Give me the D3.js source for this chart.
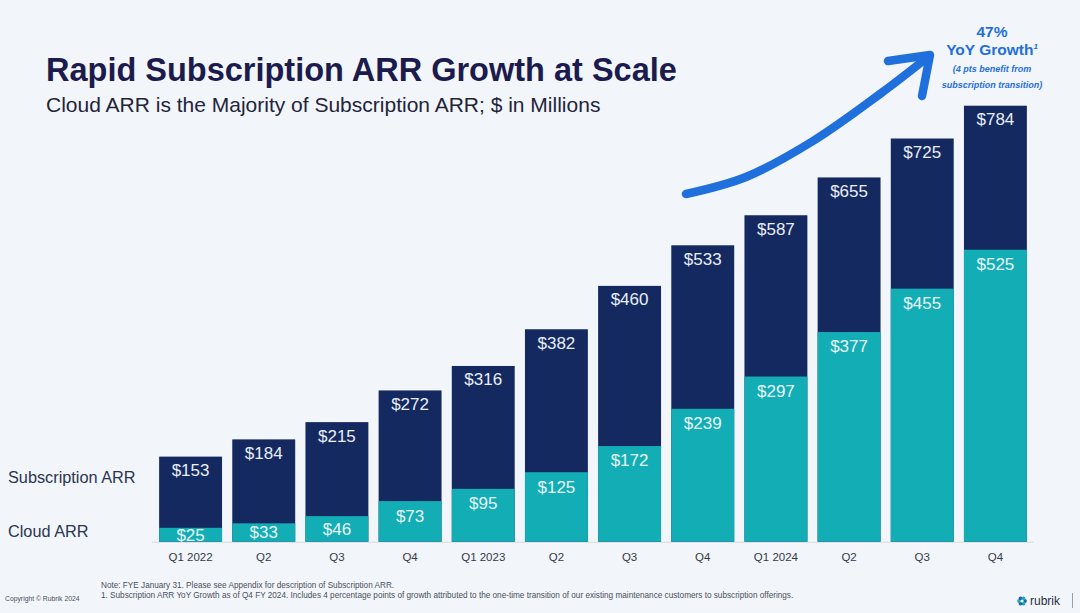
<!DOCTYPE html>
<html>
<head>
<meta charset="utf-8">
<script src="https://cdn.jsdelivr.net/npm/d3@7"></script>
<style>
  html, body { margin: 0; padding: 0; background: #f2f6fa; }
  svg { display: block; font-family: "Liberation Sans", Arial, sans-serif; }
</style>
</head>
<body>
<svg id="chart" width="1080" height="613"></svg>
<script>
// quarters on the x axis
const quarters = ["Q1 2022", "Q2", "Q3", "Q4", "Q1 2023", "Q2", "Q3", "Q4", "Q1 2024", "Q2", "Q3", "Q4"];
// total subscription ARR, $M
const subscriptionArr = [153, 184, 215, 272, 316, 382, 460, 533, 587, 655, 725, 784];
// cloud ARR, $M
const cloudArr = [25, 33, 46, 73, 95, 125, 172, 239, 297, 377, 455, 525];

const navy = "#14295f";
const teal = "#13adb6";
const blue = "#1f6fdc";

const svg = d3.select("#chart");
const W = 1080, H = 613;

svg.append("rect").attr("width", W).attr("height", H).attr("fill", "#f2f6fa");

const idx = quarters.map((d, i) => i);

const x = d3.scaleBand()
    .domain(idx)
    .range([154, 1032])
    .paddingInner(0.14)
    .paddingOuter(0.07);

const y = d3.scaleLinear()
    .domain([0, 784])
    .range([541.7, 105.7]);

// baseline
svg.append("line")
    .attr("x1", 152).attr("x2", 1034)
    .attr("y1", y(0) + 0.5).attr("y2", y(0) + 0.5)
    .attr("stroke", "#d6dbe2").attr("stroke-width", 1);

const bars = svg.append("g").selectAll("g")
    .data(idx)
    .join("g");

// subscription (total) bars
bars.append("rect")
    .attr("x", i => x(i))
    .attr("width", x.bandwidth())
    .attr("y", i => y(subscriptionArr[i]))
    .attr("height", i => y(0) - y(subscriptionArr[i]))
    .attr("fill", navy);

// cloud portion
bars.append("rect")
    .attr("x", i => x(i))
    .attr("width", x.bandwidth())
    .attr("y", i => y(cloudArr[i]))
    .attr("height", i => y(0) - y(cloudArr[i]))
    .attr("fill", teal);

// total labels
bars.append("text")
    .attr("x", i => x(i) + x.bandwidth() / 2)
    .attr("y", i => y(subscriptionArr[i]) + 13.5)
    .attr("dy", "0.35em")
    .attr("text-anchor", "middle")
    .attr("fill", "#e9eef7")
    .attr("font-size", 17)
    .text(i => "$" + subscriptionArr[i]);

// cloud labels
bars.append("text")
    .attr("x", i => x(i) + x.bandwidth() / 2)
    .attr("y", i => {
        const h = y(0) - y(cloudArr[i]);
        return y(cloudArr[i]) + Math.min(14.5, h / 2);
    })
    .attr("dy", "0.35em")
    .attr("text-anchor", "middle")
    .attr("fill", "#e9f6f7")
    .attr("font-size", 17)
    .text(i => "$" + cloudArr[i]);

// x axis labels
const xAxis = svg.append("g")
    .attr("transform", `translate(0,${y(0) + 2})`)
    .call(d3.axisBottom(x).tickSize(0).tickPadding(9).tickFormat(i => quarters[i]));
xAxis.select(".domain").remove();
xAxis.selectAll("text")
    .attr("font-family", "Liberation Sans, Arial, sans-serif")
    .attr("font-size", 11.5)
    .attr("fill", "#333a48");

// series labels on the left
svg.append("text").attr("x", 8).attr("y", 477.5).attr("dy", "0.35em")
    .attr("font-size", 16.3).attr("fill", "#2b3550").text("Subscription ARR");
svg.append("text").attr("x", 8).attr("y", 531.5).attr("dy", "0.35em")
    .attr("font-size", 16.3).attr("fill", "#2b3550").text("Cloud ARR");

// title + subtitle
svg.append("text").attr("x", 46).attr("y", 81)
    .attr("font-size", 32.5).attr("font-weight", "bold").attr("fill", "#1c1b4e")
    .text("Rapid Subscription ARR Growth at Scale");
svg.append("text").attr("x", 46).attr("y", 112)
    .attr("font-size", 21).attr("fill", "#22243a")
    .text("Cloud ARR is the Majority of Subscription ARR; $ in Millions");

// growth arrow
const arrowPts = [[686, 194], [746, 177], [813, 141], [880, 94], [928, 57]];
svg.append("path")
    .attr("d", d3.line().curve(d3.curveCatmullRom)(arrowPts))
    .attr("fill", "none").attr("stroke", blue)
    .attr("stroke-width", 8.5).attr("stroke-linecap", "round");
svg.append("path")
    .attr("d", d3.line()([[888, 61], [930, 55], [922, 96]]))
    .attr("fill", "none").attr("stroke", blue)
    .attr("stroke-width", 8.5).attr("stroke-linecap", "round").attr("stroke-linejoin", "round");

// growth annotation
const ann = svg.append("g").attr("fill", blue).attr("text-anchor", "middle");
ann.append("text").attr("x", 992).attr("y", 37).attr("font-size", 15.5).attr("font-weight", "bold").text("47%");
const yoy = ann.append("text").attr("x", 992).attr("y", 55).attr("font-size", 15.5).attr("font-weight", "bold");
yoy.append("tspan").text("YoY Growth");
yoy.append("tspan").attr("dy", -6).attr("font-size", 8).attr("font-style", "italic").text("1");
ann.append("text").attr("x", 992).attr("y", 72).attr("font-size", 9).attr("font-weight", "bold")
    .attr("font-style", "italic").text("(4 pts benefit from");
ann.append("text").attr("x", 992).attr("y", 87.5).attr("font-size", 9).attr("font-weight", "bold")
    .attr("font-style", "italic").text("subscription transition)");

// footnotes
const foot = svg.append("g").attr("fill", "#4a4f5a").attr("font-size", 8.2);
foot.append("text").attr("x", 101).attr("y", 587.5).text("Note: FYE January 31. Please see Appendix for description of Subscription ARR.");
foot.append("text").attr("x", 101).attr("y", 598).text("1. Subscription ARR YoY Growth as of Q4 FY 2024. Includes 4 percentage points of growth attributed to the one-time transition of our existing maintenance customers to subscription offerings.");
svg.append("text").attr("x", 5).attr("y", 600.5).attr("fill", "#4a4f5a").attr("font-size", 6.8).text("Copyright © Rubrik 2024");

// rubrik logo
const logo = svg.append("g").attr("transform", "translate(1022,601)");
d3.range(6).forEach(k => {
    const a = k * Math.PI / 3;
    logo.append("circle")
        .attr("cx", 2.9 * Math.cos(a)).attr("cy", 2.9 * Math.sin(a)).attr("r", 1.9)
        .attr("fill", k % 2 ? "#1aa9b8" : "#1e5fb8");
});
logo.append("circle").attr("r", 1.6).attr("fill", "#f2f6fa");
svg.append("text").attr("x", 1030).attr("y", 605).attr("font-size", 12).attr("fill", "#2a3142").text("rubrik");
svg.append("line").attr("x1", 1072.5).attr("x2", 1072.5).attr("y1", 593).attr("y2", 608)
    .attr("stroke", "#9aa0aa").attr("stroke-width", 1);
</script>
</body>
</html>
